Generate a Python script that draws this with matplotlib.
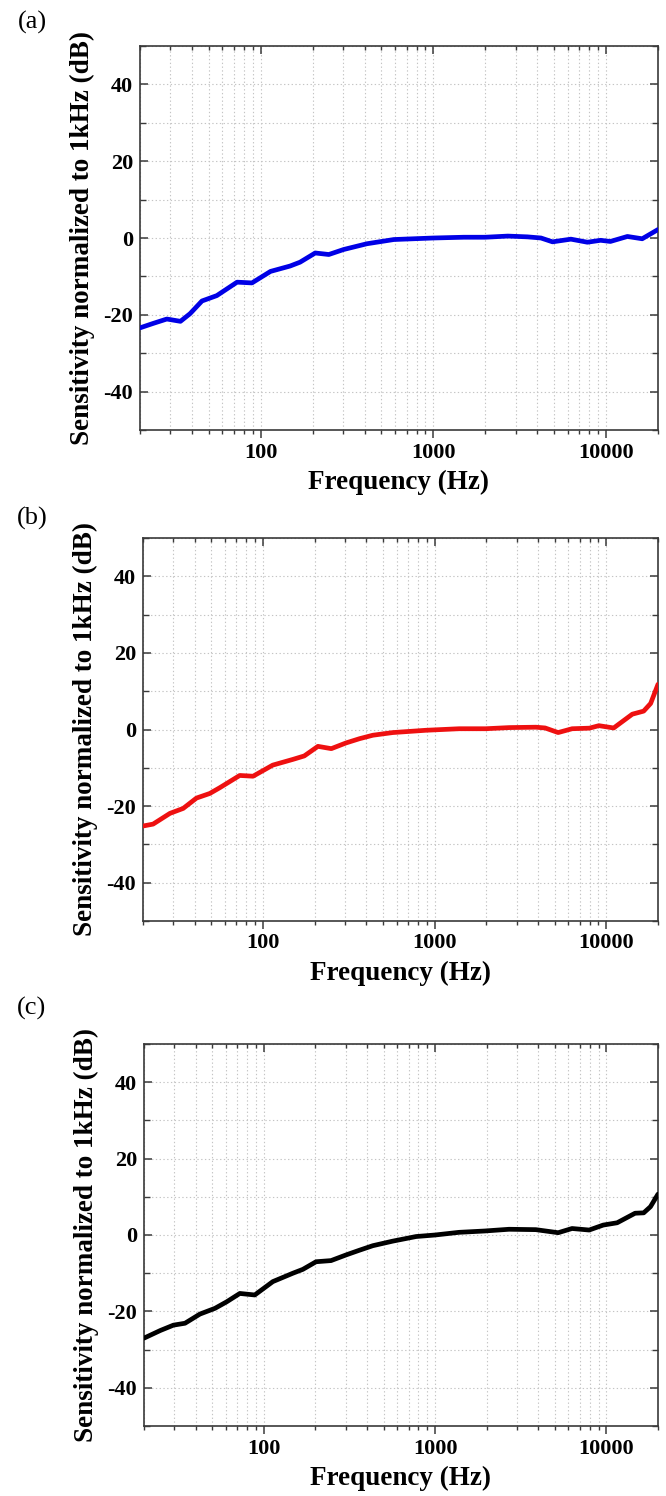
import matplotlib
matplotlib.use("Agg")
import matplotlib.pyplot as plt
from matplotlib.ticker import FixedLocator, LogLocator, NullFormatter, FixedFormatter, MultipleLocator

plt.rcParams['font.family'] = ['Liberation Serif', 'DejaVu Serif']
plt.rcParams['axes.unicode_minus'] = False

# ---- data ----
freq_a = [20, 24, 28.6, 34.3, 39, 45.7, 55.7, 73, 89, 114, 148, 169, 207, 248, 302, 412,
          590, 1000, 1500, 2000, 2700, 3500, 4200, 4900, 6260, 7800, 9300, 10600, 13300, 16200, 20000]
sens_a = [-23.4, -22.2, -21.1, -21.7, -19.7, -16.4, -15.0, -11.5, -11.7, -8.7, -7.3, -6.3, -3.9, -4.3, -3.0, -1.5,
          -0.4, 0.0, 0.2, 0.2, 0.5, 0.3, 0.0, -1.0, -0.3, -1.1, -0.6, -0.9, 0.4, -0.2, 2.2]

freq_b = [20, 22.9, 28.7, 34.3, 41, 49, 56, 73.2, 87.5, 114, 149.5, 174, 209, 250, 305, 365, 436,
          570, 890, 1390, 1985, 2720, 3890, 4400, 5240, 6320, 7970, 9050, 11040, 14170, 16500, 18120, 20000]
sens_b = [-25.2, -24.7, -21.9, -20.6, -17.9, -16.7, -15.2, -12.0, -12.2, -9.3, -7.8, -6.9, -4.4, -5.0, -3.5, -2.4, -1.5,
          -0.8, -0.2, 0.2, 0.2, 0.5, 0.6, 0.4, -0.8, 0.2, 0.35, 1.0, 0.4, 4.0, 4.8, 6.8, 11.8]

freq_c = [20, 24.9, 29.7, 34.7, 42.4, 51.9, 60.7, 72.5, 88.6, 113, 148, 169, 202, 247, 303, 361, 433,
          567, 775, 1000, 1380, 1950, 2700, 3870, 5230, 6300, 7930, 9580, 11550, 14700, 16500, 18070, 20000]
sens_c = [-27.0, -25.0, -23.6, -23.1, -20.7, -19.2, -17.5, -15.3, -15.7, -12.2, -10.0, -9.0, -7.0, -6.7, -5.2, -4.0, -2.8,
          -1.6, -0.4, 0.0, 0.7, 1.05, 1.5, 1.4, 0.6, 1.7, 1.3, 2.6, 3.2, 5.7, 5.8, 7.4, 10.7]

panel_labels = ['(a)', '(b)', '(c)']
colors = ['#0000e6', '#ee1010', '#000000']
x_major = [100, 1000, 10000]
x_major_labels = ['100', '1000', '10000']
y_major = [-40, -20, 0, 20, 40]
xlabel = 'Frequency (Hz)'
ylabel = 'Sensitivity normalized to 1kHz (dB)'

W, H = 666, 1496
fig = plt.figure(figsize=(W / 100, H / 100), dpi=100)

# axes boxes in pixels: left, right, top, bottom
boxes = [(140, 658, 46, 430), (143, 658, 538, 921), (144, 658, 1044, 1426)]
label_pos = [(32, 22), (32, 518), (32, 1008)]

series = [(freq_a, sens_a), (freq_b, sens_b), (freq_c, sens_c)]
spine_col = '#3a3a3a'
grid_kw = dict(color='#c4c4c4', linestyle=(0, (1.2, 2.2)), linewidth=0.8)

for i, (fx, sy) in enumerate(series):
    l, r, t, b = boxes[i]
    ax = fig.add_axes([l / W, 1 - b / H, (r - l) / W, (b - t) / H])
    ax.set_xscale('log')
    ax.plot(fx, sy, color=colors[i], lw=3.4, solid_joinstyle='round', solid_capstyle='round', zorder=3)
    ax.set_xlim(20, 20000)
    ax.set_ylim(-50, 50)

    ax.xaxis.set_major_locator(FixedLocator(x_major))
    ax.xaxis.set_major_formatter(FixedFormatter(x_major_labels))
    ax.xaxis.set_minor_locator(LogLocator(base=10, subs=range(2, 10)))
    ax.xaxis.set_minor_formatter(NullFormatter())
    ax.yaxis.set_major_locator(FixedLocator(y_major))
    ax.yaxis.set_minor_locator(MultipleLocator(10))

    ax.grid(True, which='both', axis='both', **grid_kw)
    ax.set_axisbelow(True)

    for s in ax.spines.values():
        s.set_color(spine_col)
        s.set_linewidth(1.2)

    ax.tick_params(axis='x', which='major', direction='out', length=6, width=1.1, color=spine_col,
                   pad=3, labelsize=16, top=False)
    ax.tick_params(axis='x', which='minor', direction='out', length=3, width=1.0, color=spine_col, top=False)
    ax.tick_params(axis='y', which='major', direction='in', length=6, width=1.1, color=spine_col,
                   pad=5, labelsize=16, left=True, right=True)
    ax.tick_params(axis='y', which='minor', direction='in', length=4.5, width=1.0, color=spine_col,
                   left=True, right=True)
    for lab in ax.get_xticklabels() + ax.get_yticklabels():
        lab.set_fontweight('bold')

    # top ticks (inward) via twin axis
    ax2 = ax.twiny()
    ax2.set_xscale('log')
    ax2.set_xlim(20, 20000)
    ax2.xaxis.set_major_locator(FixedLocator(x_major))
    ax2.xaxis.set_minor_locator(LogLocator(base=10, subs=range(2, 10)))
    ax2.xaxis.set_minor_formatter(NullFormatter())
    ax2.tick_params(axis='x', which='major', direction='in', length=6, width=1.1, color=spine_col,
                    labeltop=False, top=True, bottom=False)
    ax2.tick_params(axis='x', which='minor', direction='in', length=3, width=1.0, color=spine_col,
                    top=True, bottom=False)
    for s in ax2.spines.values():
        s.set_visible(False)

    ax.set_xlabel(xlabel, fontsize=19.5, fontweight='bold', labelpad=5)
    ax.set_ylabel(ylabel, fontsize=19.5, fontweight='bold', labelpad=6)

    px, py = label_pos[i]
    fig.text(px / W, 1 - py / H, panel_labels[i], fontsize=19, ha='center', va='center')

fig.savefig('out.png', dpi=100, facecolor='white')
